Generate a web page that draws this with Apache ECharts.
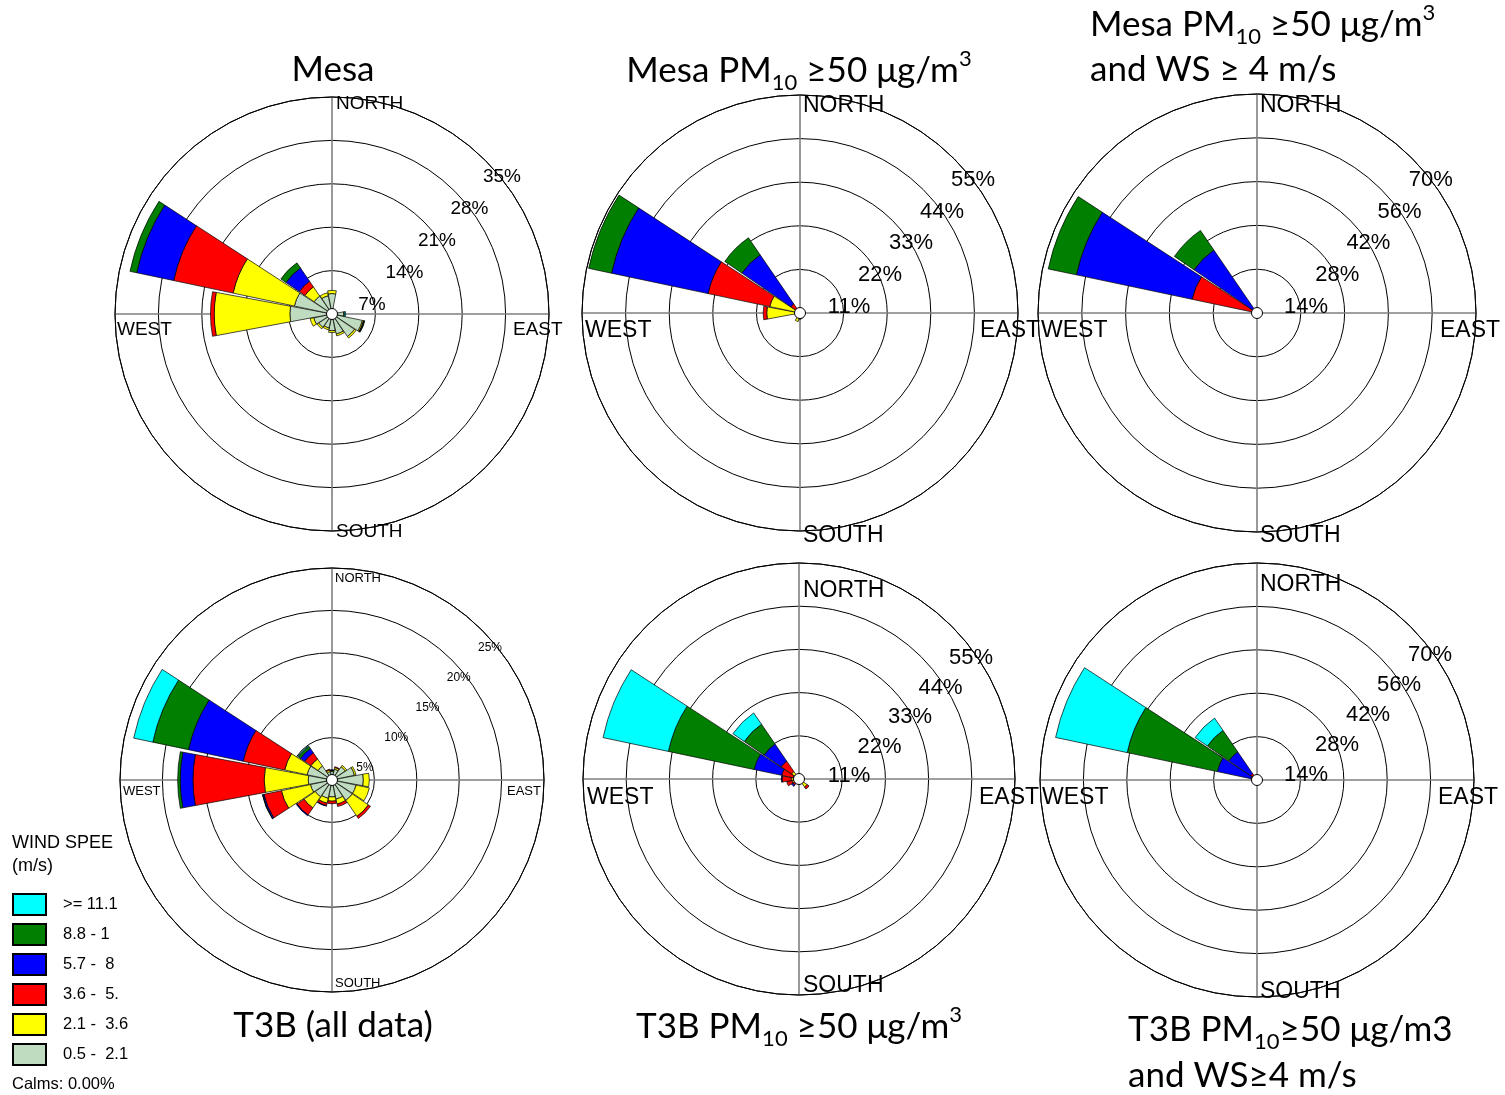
<!DOCTYPE html>
<html><head><meta charset="utf-8">
<script src="https://cdn.jsdelivr.net/npm/echarts@6/dist/echarts.min.js"></script>
<style>html,body{margin:0;padding:0;background:#fff}#c{width:1505px;height:1095px}</style>
</head><body><div id="c"></div>
<script>
// ---------- categories ----------
const directions = ['N','NNE','NE','ENE','E','ESE','SE','SSE','S','SSW','SW','WSW','W','WNW','NW','NNW'];
const speedClasses = ['0.5 - 2.1','2.1 - 3.6','3.6 - 5.7','5.7 - 8.8','8.8 - 11.1','>= 11.1'];
const legendLabels = ['0.5 -  2.1','2.1 -  3.6','3.6 -  5.','5.7 -  8','8.8 - 1','>= 11.1'];
const speedColors = ['#C0DCC0','#FFFF00','#FF0000','#0000FF','#007F00','#00FFFF'];

// ---------- Mesa (all data) : % frequency per direction ----------
const mesaAll_s1 = [3.3,0.6,0.6,0.8,1.9,5.0,4.4,3.3,2.7,2.3,2.6,3.0,6.8,6.2,3.5,3.0];
const mesaAll_s2 = [0.5,0,0,0,0.1,0.2,0.3,0.3,0.3,0.3,0.3,0.6,12.2,10.1,1.8,0.5];
const mesaAll_s3 = [0,0,0,0,0,0.05,0,0,0,0,0,0,0.6,9.8,1.1,0];
const mesaAll_s4 = [0,0,0,0,0,0.05,0,0,0,0,0,0,0,6.1,2.6,0];
const mesaAll_s5 = [0,0,0,0,0,0.1,0,0,0,0,0,0,0,1.1,1.0,0];
const mesaAll_s6 = [0,0,0,0,0.2,0,0,0,0,0,0,0,0,0,0,0];
const mesaAllTicks = ['7%','14%','21%','28%','35%'];

// ---------- Mesa PM10 >= 50 ----------
const mesaPM_s1 = [0.8,0.5,0.5,0.6,0.8,1.0,1.2,1.4,1.4,1.2,1.0,1.0,1.0,0.8,0.8,0.6];
const mesaPM_s2 = [0,0,0,0,0,0,0,0,0.2,1.0,0.2,0,7.4,7.0,0.6,0];
const mesaPM_s3 = [0,0,0,0,0,0,0,0,0,0,0,0,0.9,15.9,1.4,0];
const mesaPM_s4 = [0,0,0,0,0,0,0,0,0,0,0,0,0,24.9,15.0,0];
const mesaPM_s5 = [0,0,0,0,0,0,0,0,0,0,0,0,0,5.9,5.2,0];
const mesaPM_s6 = [0,0,0,0,0,0,0,0,0,0,0,0,0,0,0,0];
const mesaPMTicks = ['11%','22%','33%','44%','55%'];

// ---------- Mesa PM10 >= 50 and WS >= 4 ----------
const mesaWS_s1 = [0,0,0,0,0,0,0,0,0,0,0,0,0,0,0,0];
const mesaWS_s2 = [0,0,0,0,0,0,0,0,0,0,0,0,0,0,0,0];
const mesaWS_s3 = [0,0,0,0,0,0,0,0,0,0,0,0,0,21.2,1.4,0];
const mesaWS_s4 = [0,0,0,0,0,0,0,0,0,0,0,0,0,37.8,23.0,0];
const mesaWS_s5 = [0,0,0,0,0,0,0,0,0,0,0,0,0,9.2,7.6,0];
const mesaWS_s6 = [0,0,0,0,0,0,0,0,0,0,0,0,0,0,0,0];
const mesaWSTicks = ['14%','28%','42%','56%','70%'];

// ---------- T3B (all data) ----------
const t3bAll_s1 = [1.0,1.3,1.9,2.7,3.7,2.9,2.9,2.3,2.0,2.2,2.4,2.6,2.8,3.0,2.0,1.0];
const t3bAll_s2 = [0.1,0.2,0.2,0.2,0.7,1.6,2.3,0.6,0.5,0.6,1.6,3.5,5.2,2.7,1.0,0.2];
const t3bAll_s3 = [0.05,0.1,0,0,0,0,0.3,0.3,0.3,0.3,1.0,2.1,8.4,5.0,0.9,0.1];
const t3bAll_s4 = [0.05,0,0,0,0,0,0,0,0,0.05,0.1,0.15,1.5,6.6,0.6,0];
const t3bAll_s5 = [0,0,0,0,0,0,0,0,0,0,0,0.05,0.3,4.3,0.3,0];
const t3bAll_s6 = [0,0,0,0,0,0,0,0,0,0,0,0,0,2.3,0.1,0];
const t3bAllTicks = ['5%','10%','15%','20%','25%'];

// ---------- T3B PM10 >= 50 ----------
const t3bPM_s1 = [0.8,0.8,0.6,0.6,0.8,0.8,1.0,0.8,1.0,1.0,0.8,0.8,0.8,0.5,0.8,0.6];
const t3bPM_s2 = [0,0.4,0,0,0,0,1.5,0,0,0,0.5,1.0,1.2,1.0,1.5,0];
const t3bPM_s3 = [0,0,0,0,0,0,0.6,0,0,0,0.6,1.4,2.3,3.0,3.2,0];
const t3bPM_s4 = [0,0,0,0,0,0,0,0,0,0,0.4,0,0.2,7.2,5.3,0];
const t3bPM_s5 = [0,0,0,0,0,0,0,0,0,0,0,0,0,22.3,6.1,0];
const t3bPM_s6 = [0,0,0,0,0,0,0,0,0,0,0,0,0,17.0,3.5,0];
const t3bPMTicks = ['11%','22%','33%','44%','55%'];

// ---------- T3B PM10 >= 50 and WS >= 4 ----------
const t3bWS_s1 = [0,0,0,0,0,0,0,0,0,0,0,0,0,0,0,0];
const t3bWS_s2 = [0,0,0,0,0,0,0,0,0,0,0,0,0,0,0,0];
const t3bWS_s3 = [0,0,0,0,0,0,0,0,0,0,0,0.8,1.6,2.0,2.5,0];
const t3bWS_s4 = [0,0,0,0,0,0,0,0,0,0,0,0,0,11.1,8.5,0];
const t3bWS_s5 = [0,0,0,0,0,0,0,0,0,0,0,0,0,29.7,8.4,0];
const t3bWS_s6 = [0,0,0,0,0,0,0,0,0,0,0,0,0,23.6,4.8,0];
const t3bWSTicks = ['14%','28%','42%','56%','70%'];

// ---------- layout ----------
const panels = [
  {cx:332, cy:314, r:217, max:35, series:[mesaAll_s1,mesaAll_s2,mesaAll_s3,mesaAll_s4,mesaAll_s5,mesaAll_s6], ticks:mesaAllTicks,
   tickOff:[40,-9], tickStep:[32.5,-32], tickFont:19, dirFont:19,
   dirs:{N:[336,104],S:[336,532],W:[117,330],E:[513,330]}},
  {cx:800, cy:313, r:218, max:55, series:[mesaPM_s1,mesaPM_s2,mesaPM_s3,mesaPM_s4,mesaPM_s5,mesaPM_s6], ticks:mesaPMTicks,
   tickOff:[49,-6], tickStep:[31,-31.8], tickFont:22, dirFont:23,
   dirs:{N:[803,106],S:[803,536],W:[585,331],E:[980,331]}},
  {cx:1257, cy:313, r:219, max:70, series:[mesaWS_s1,mesaWS_s2,mesaWS_s3,mesaWS_s4,mesaWS_s5,mesaWS_s6], ticks:mesaWSTicks,
   tickOff:[49,-6], tickStep:[31.2,-31.8], tickFont:22, dirFont:23,
   dirs:{N:[1260,106],S:[1260,536],W:[1041,331],E:[1440,331]}},
  {cx:332, cy:780, r:212, max:25, series:[t3bAll_s1,t3bAll_s2,t3bAll_s3,t3bAll_s4,t3bAll_s5,t3bAll_s6], ticks:t3bAllTicks,
   tickOff:[33,-12], tickStep:[31.25,-30], tickFont:12, dirFont:13,
   dirs:{N:[335,578],S:[335,983],W:[123,791],E:[507,791]}},
  {cx:799, cy:779, r:216, max:55, series:[t3bPM_s1,t3bPM_s2,t3bPM_s3,t3bPM_s4,t3bPM_s5,t3bPM_s6], ticks:t3bPMTicks,
   tickOff:[50,-3], tickStep:[30.5,-29.5], tickFont:22, dirFont:23,
   dirs:{N:[803,591],S:[803,986],W:[587,798],E:[979,798]}},
  {cx:1257, cy:780, r:217, max:70, series:[t3bWS_s1,t3bWS_s2,t3bWS_s3,t3bWS_s4,t3bWS_s5,t3bWS_s6], ticks:t3bWSTicks,
   tickOff:[49,-5], tickStep:[31,-30], tickFont:22, dirFont:23,
   dirs:{N:[1260,585],S:[1260,992],W:[1042,798],E:[1438,798]}}
];

const polar = [], angleAxis = [], radiusAxis = [], series = [], graphic = [];
const hidden = {axisLine:{show:false}, axisTick:{show:false}, axisLabel:{show:false}, splitLine:{show:false}};
const dirNames = {N:'NORTH', S:'SOUTH', W:'WEST', E:'EAST'};

panels.forEach((p, i) => {
  const g = 2*i, b = 2*i+1;
  polar.push({center:[p.cx,p.cy], radius:[0,p.r]});
  polar.push({center:[p.cx,p.cy], radius:[0,p.r]});
  angleAxis.push({polarIndex:g, type:'value', min:0, max:360, interval:90, startAngle:90, clockwise:true, z:0,
    axisLine:{show:true, lineStyle:{color:'#000', width:1}}, axisTick:{show:false}, axisLabel:{show:false},
    splitLine:{show:true, lineStyle:{color:'#808080', width:1.6}}});
  angleAxis.push(Object.assign({polarIndex:b, type:'category', data:directions, startAngle:101.25, clockwise:true}, hidden));
  radiusAxis.push({polarIndex:g, type:'value', min:0, max:p.max, interval:p.max/5, z:0,
    axisLine:{show:false}, axisTick:{show:false}, axisLabel:{show:false},
    splitLine:{show:true, lineStyle:{color:'#000', width:1}}});
  radiusAxis.push(Object.assign({polarIndex:b, type:'value', min:0, max:p.max}, hidden));
  p.series.forEach((arr, k) => {
    series.push({
      type:'bar', coordinateSystem:'polar', polarIndex:b, name:speedClasses[k], stack:'panel'+i,
      barCategoryGap:'6%', silent:true, z:2,
      itemStyle:{color:speedColors[k], borderColor:'#000', borderWidth:0.7},
      data: arr.map(v => v === 0 ? '-' : v)
    });
  });
  series.push({type:'scatter', coordinateSystem:'polar', polarIndex:g, data:[[0,0]], symbolSize:11, z:5, silent:true,
    itemStyle:{color:'#fff', opacity:1, borderColor:'#000', borderWidth:1}});
  Object.keys(p.dirs).forEach(d => {
    graphic.push({type:'text', x:p.dirs[d][0], y:p.dirs[d][1], z:100,
      style:{text:dirNames[d], fill:'#000', fontFamily:'Liberation Sans', fontSize:p.dirFont,
        align:'left', textAlign:'left', verticalAlign:'middle', textVerticalAlign:'middle'}});
  });
  p.ticks.forEach((t, k) => {
    graphic.push({type:'text', x:p.cx + p.tickOff[0] + k*p.tickStep[0], y:p.cy + p.tickOff[1] + k*p.tickStep[1], z:100,
      style:{text:t, fill:'#000', fontFamily:'Liberation Sans', fontSize:p.tickFont,
        align:'center', textAlign:'center', verticalAlign:'middle', textVerticalAlign:'middle'}});
  });
});

// ---------- titles ----------
const titleRich = {
  m:{fontFamily:'Lato', fontSize:35, lineHeight:46, fill:'#000', color:'#000'},
  b:{fontFamily:'Lato', fontSize:22, lineHeight:22, verticalAlign:'bottom', fill:'#000', color:'#000'},
  p:{fontFamily:'Lato', fontSize:22, lineHeight:38, verticalAlign:'top', fill:'#000', color:'#000'}
};
const titles = [
  {x:333, y:70, a:'center', t:'{m|Mesa}'},
  {x:799, y:71, a:'center', t:'{m|Mesa PM}{b|10}{m| \u226550 \u03bcg/m}{p|3}'},
  {x:1090, y:25, a:'left', t:'{m|Mesa PM}{b|10}{m| \u226550 \u03bcg/m}{p|3}'},
  {x:1090, y:70, a:'left', t:'{m|and WS \u2265 4 m/s}'},
  {x:333, y:1026, a:'center', t:'{m|T3B (all data)}'},
  {x:799, y:1027, a:'center', t:'{m|T3B PM}{b|10}{m| \u226550 \u03bcg/m}{p|3}'},
  {x:1128, y:1030, a:'left', t:'{m|T3B PM}{b|10}{m|\u226550 \u03bcg/m3}'},
  {x:1128, y:1076, a:'left', t:'{m|and WS\u22654 m/s}'}
];
titles.forEach(tt => graphic.push({type:'text', x:tt.x, y:tt.y, z:100,
  style:{text:tt.t, rich:titleRich, align:tt.a, textAlign:tt.a, verticalAlign:'middle', textVerticalAlign:'middle'}}));

[['WIND SPEE',843,18],['(m/s)',866,18],['Calms: 0.00%',1084,16.5]].forEach(l => graphic.push({type:'text', x:12, y:l[1], z:100,
  style:{text:l[0], fill:'#000', fontFamily:'Liberation Sans', fontSize:l[2], align:'left', textAlign:'left', verticalAlign:'middle', textVerticalAlign:'middle'}}));

const chart = echarts.init(document.getElementById('c'), null, {renderer:'canvas'});
chart.setOption({
  animation:false,
  backgroundColor:'#fff',
  polar, angleAxis, radiusAxis, series, graphic,
  legend:{orient:'vertical', left:12, top:893, padding:0, itemWidth:33, itemHeight:21, itemGap:7, icon:'rect',
    selectedMode:false, data:speedClasses.slice().reverse(),
    formatter: n => legendLabels[speedClasses.indexOf(n)],
    textStyle:{fontFamily:'Liberation Sans', fontSize:16.5, color:'#000', padding:[0,0,0,12]}}
});
</script></body></html>
